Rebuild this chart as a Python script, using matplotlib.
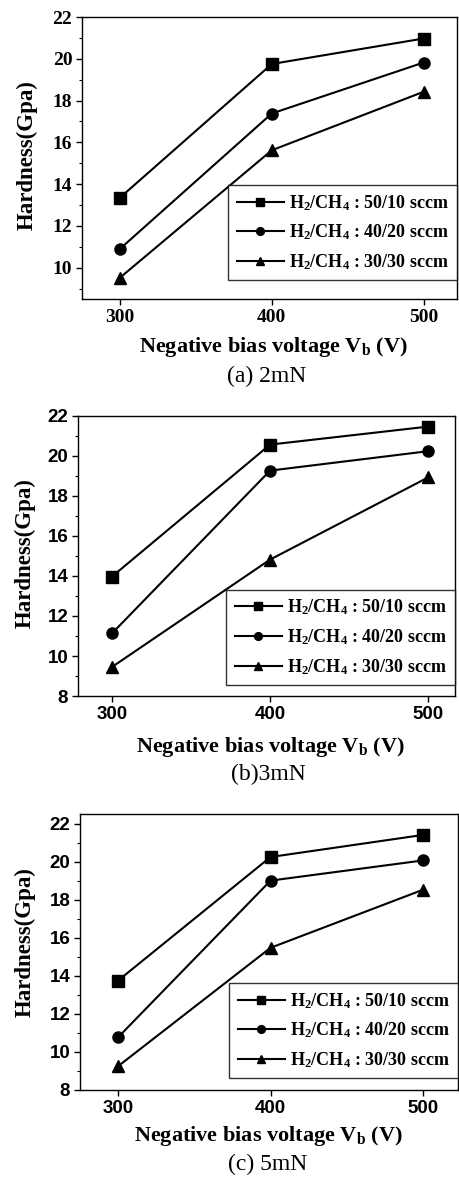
import matplotlib
matplotlib.use("Agg")
import matplotlib.pyplot as plt
from matplotlib.ticker import MultipleLocator

plt.rcParams['mathtext.fontset'] = 'custom'
plt.rcParams['mathtext.rm'] = 'Liberation Serif'
plt.rcParams['mathtext.bf'] = 'Liberation Serif:bold'
plt.rcParams['mathtext.default'] = 'bf'

# bias voltage (V)
bias = [300, 400, 500]

# hardness (GPa)
a_5010 = [13.35, 19.75, 20.97]
a_4020 = [10.90, 17.38, 19.82]
a_3030 = [9.52, 15.62, 18.42]

b_5010 = [13.97, 20.57, 21.47]
b_4020 = [11.13, 19.27, 20.24]
b_3030 = [9.45, 14.82, 18.93]

c_5010 = [13.75, 20.24, 21.40]
c_4020 = [10.77, 19.00, 20.06]
c_3030 = [9.25, 15.47, 18.52]

labels = ['H$_2$/CH$_4$ : 50/10 sccm',
          'H$_2$/CH$_4$ : 40/20 sccm',
          'H$_2$/CH$_4$ : 30/30 sccm']
markers = ['s', 'o', '^']
captions = ['(a) 2mN', '(b)3mN', '(c) 5mN']

W, H = 460, 1178
fig = plt.figure(figsize=(W / 100, H / 100), dpi=100)


def px_axes(l, t, r, b):
    return fig.add_axes([l / W, 1 - b / H, (r - l) / W, (b - t) / H])


# pixel boxes of the three panels: left, top, right, bottom
boxes = [(82, 17, 457, 299), (78, 416, 455, 696), (80, 814, 458, 1090)]
ylims = [(8.5, 22), (8, 22), (8, 22.5)]
xlims = [(275, 522), (278.5, 517), (275, 523)]
tick_fonts = ['Liberation Serif', 'Liberation Sans', 'Liberation Sans']
tick_sizes = [14, 13.5, 13.5]
legend_bottom = [0.067, 0.04, 0.043]
ylab_pos = [(27, 155), (25, 553), (25, 942)]
xlab_pos = [(273, 352), (270, 752), (268, 1141)]
cap_pos = [(267, 382), (268, 780), (268, 1170)]

panels = [(a_5010, a_4020, a_3030),
          (b_5010, b_4020, b_3030),
          (c_5010, c_4020, c_3030)]

for i, series in enumerate(panels):
    ax = px_axes(*boxes[i])
    for vals, m, lab in zip(series, markers, labels):
        ax.plot(bias, vals, color='black', lw=1.5, marker=m, markersize=8,
                label=lab)
    ax.set_xlim(*xlims[i])
    ax.set_ylim(*ylims[i])
    ax.set_xticks(bias)
    ax.yaxis.set_major_locator(MultipleLocator(2))
    ax.yaxis.set_minor_locator(MultipleLocator(1))
    ax.tick_params(axis='both', which='major', direction='out', length=4,
                   width=1, pad=3)
    ax.tick_params(axis='y', which='minor', direction='out', length=2.5,
                   width=0.8)
    for t in ax.get_xticklabels() + ax.get_yticklabels():
        t.set_fontfamily(tick_fonts[i])
        t.set_fontweight('bold')
        t.set_fontsize(tick_sizes[i])
    for s in ax.spines.values():
        s.set_linewidth(1.0)

    leg = ax.legend(loc='lower right', bbox_to_anchor=(1.0, legend_bottom[i]),
                    borderaxespad=0, frameon=True, fancybox=False,
                    edgecolor='black', handlelength=2.6, markerscale=0.7,
                    labelspacing=0.55, handletextpad=0.3, borderpad=0.45,
                    prop={'family': 'Liberation Serif', 'weight': 'bold',
                          'size': 13})
    leg.get_frame().set_linewidth(1.0)

    fig.text(ylab_pos[i][0] / W, 1 - ylab_pos[i][1] / H, 'Hardness(Gpa)',
             rotation=90, ha='center', va='center', fontsize=16.5,
             fontweight='bold', family='Liberation Serif')
    fig.text(xlab_pos[i][0] / W, 1 - xlab_pos[i][1] / H,
             'Negative bias voltage V$_b$ (V)', ha='center', va='baseline',
             fontsize=16, fontweight='bold', family='Liberation Serif')
    fig.text(cap_pos[i][0] / W, 1 - cap_pos[i][1] / H, captions[i],
             ha='center', va='baseline', fontsize=17, family='Liberation Serif')

fig.savefig('out.png', dpi=100)
